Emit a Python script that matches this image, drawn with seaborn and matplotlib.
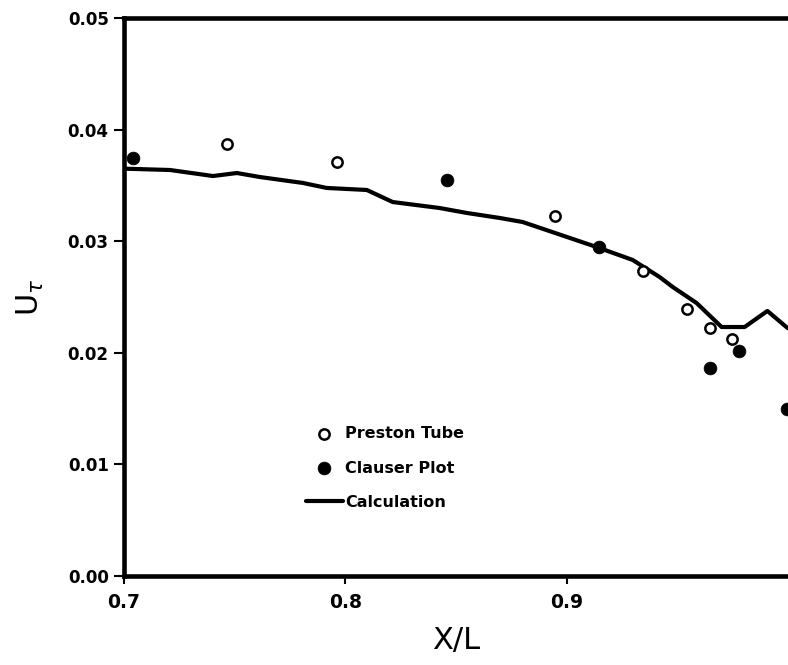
import numpy as np
import pandas as pd
import matplotlib
matplotlib.use("Agg")
import matplotlib.pyplot as plt
import seaborn as sns

# ---- data ----
preston_x = [0.7465, 0.7962, 0.8946, 0.9343, 0.9542, 0.9646, 0.9745]
preston_y = [0.0387, 0.0371, 0.0323, 0.0273, 0.0239, 0.0222, 0.0212]

clauser_x = [0.7040, 0.8458, 0.9144, 0.9646, 0.9777, 0.9995]
clauser_y = [0.0375, 0.0355, 0.0295, 0.0186, 0.0202, 0.0150]

calc_x = [0.7000, 0.7208, 0.7402, 0.7510, 0.7614, 0.7808, 0.7916, 0.8097,
          0.8214, 0.8427, 0.8549, 0.8698, 0.8801, 0.9135, 0.9298, 0.9420,
          0.9479, 0.9587, 0.9700, 0.9804, 0.9907, 0.9998]
calc_y = [0.03650, 0.03638, 0.03584, 0.03611, 0.03575, 0.03522, 0.03477, 0.03459,
          0.03351, 0.03297, 0.03253, 0.03208, 0.03172, 0.02948, 0.02832, 0.02679,
          0.02590, 0.02446, 0.02231, 0.02231, 0.02375, 0.02222]

x_ticks = [0.7, 0.8, 0.9]
x_ticklabels = ["0.7", "0.8", "0.9"]
y_ticks = [0.00, 0.01, 0.02, 0.03, 0.04, 0.05]
y_ticklabels = ["0.00", "0.01", "0.02", "0.03", "0.04", "0.05"]

labels = ["Preston Tube", "Clauser Plot", "Calculation"]

sns.set_style("ticks")
plt.rcParams["font.family"] = ["DejaVu Sans"]
plt.rcParams["text.color"] = "black"
plt.rcParams["axes.labelcolor"] = "black"
plt.rcParams["xtick.color"] = "black"
plt.rcParams["ytick.color"] = "black"

fig = plt.figure(figsize=(7.88, 6.65), dpi=100)
ax = fig.add_axes([124 / 788, 1 - 576 / 665, 664 / 788, (576 - 18) / 665])

calc_df = pd.DataFrame({"x": calc_x, "y": calc_y})
pre_df = pd.DataFrame({"x": preston_x, "y": preston_y})
cla_df = pd.DataFrame({"x": clauser_x, "y": clauser_y})

sns.lineplot(data=calc_df, x="x", y="y", ax=ax, color="black", lw=3,
             sort=False, estimator=None, label=labels[2], zorder=2)
sns.scatterplot(data=pre_df, x="x", y="y", ax=ax, marker="o", s=55,
                facecolor="white", edgecolor="black", linewidth=1.8,
                label=labels[0], zorder=3, clip_on=False)
sns.scatterplot(data=cla_df, x="x", y="y", ax=ax, marker="o", s=85,
                color="black", edgecolor="black", linewidth=0.5,
                label=labels[1], zorder=3, clip_on=False)

ax.set_xlim(0.7, 1.0)
ax.set_ylim(0.0, 0.05)
ax.set_xticks(x_ticks)
ax.set_xticklabels(x_ticklabels, fontsize=13.5, fontweight="bold")
ax.set_yticks(y_ticks)
ax.set_yticklabels(y_ticklabels, fontsize=12, fontweight="bold")
ax.tick_params(axis="y", direction="out", length=7, width=1.5, pad=4,
               colors="black")
ax.tick_params(axis="x", direction="out", length=6, width=1.5, pad=6,
               colors="black")

for side in ["left", "bottom", "top"]:
    ax.spines[side].set_linewidth(3.3)
    ax.spines[side].set_color("black")
ax.spines["right"].set_visible(False)

ax.set_xlabel("X/L", fontsize=22, labelpad=10, color="black")
ax.set_ylabel(r"$\mathsf{U}_{\tau}$", fontsize=22, labelpad=16, color="black")

handles, lbls = ax.get_legend_handles_labels()
order = [lbls.index(l) for l in labels]
leg = ax.legend([handles[i] for i in order], [lbls[i] for i in order],
                loc="center left", bbox_to_anchor=(0.274, 0.1935),
                frameon=False, borderpad=0, borderaxespad=0,
                handlelength=2.3, handletextpad=0.15, labelspacing=1.2,
                prop={"weight": "bold", "size": 11.5})
for t in leg.get_texts():
    t.set_color("black")

fig.savefig("out.png", dpi=100)
